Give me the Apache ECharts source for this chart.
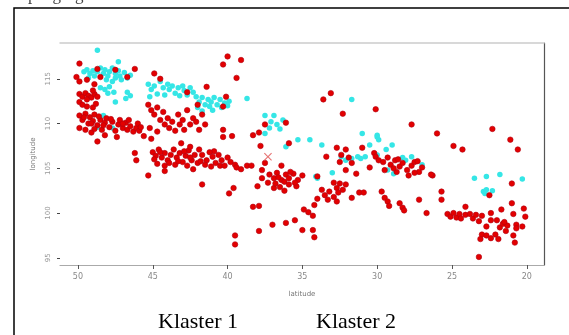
<!DOCTYPE html>
<html>
<head>
<meta charset="utf-8">
<script src="https://cdn.jsdelivr.net/npm/echarts@6/dist/echarts.min.js"></script>
<style>
html, body { margin: 0; padding: 0; background: #fff; }
#chart { width: 569px; height: 335px; }
</style>
</head>
<body>
<div id="chart"></div>
<script>
// tick labels
const xTicks = [50, 45, 40, 35, 30, 25, 20]
const yTicks = [95, 100, 105, 110, 115]

// Klaster 1 (red)
const klaster1 = [
  [49.9,116.7],[48.7,116.1],[46.2,116.1],[47.5,116.0],[50.1,115.2],[49.9,114.7],[49.4,114.9],[48.9,114.4],[48.5,115.2],[46.7,115.2],[44.9,115.6],[44.5,115.0],
  [49.9,113.3],[49.7,113.0],[49.5,113.4],[49.3,113.1],[49.1,112.9],[48.9,113.3],[48.7,113.0],[49.0,113.7],[49.4,112.7],
  [49.9,112.4],[49.4,111.9],[49.0,111.8],[49.7,112.1],[48.8,112.2],
  [49.9,110.9],[49.7,110.4],[49.5,111.1],[49.3,110.0],[49.2,110.7],[49.0,110.3],[48.9,111.0],[48.7,109.8],[48.5,110.4],[48.4,109.3],
  [48.2,110.1],[48.1,110.6],[47.9,109.6],[47.7,110.2],[47.5,109.2],[47.3,109.9],[47.2,110.4],[47.0,109.5],[46.8,110.1],[46.7,109.3],
  [46.5,109.7],[46.3,109.1],[46.1,109.5],[45.9,109.2],[49.5,109.3],[49.1,109.0],[49.9,109.5],[48.7,108.0],[48.2,108.7],[47.4,108.5],
  [49.6,110.7],[49.1,110.0],[48.6,110.8],[48.3,109.8],[47.8,110.5],[47.0,110.0],[46.6,110.4],[46.0,110.0],[45.8,109.6],[48.9,109.4],
  [45.3,112.1],[45.1,111.5],[44.9,111.0],[44.7,111.8],[44.5,110.4],[44.3,111.3],[44.2,109.9],[44.0,110.6],[43.9,109.5],[43.7,110.2],
  [43.5,109.2],[43.3,111.0],[43.2,109.9],[43.0,110.4],[42.9,109.3],[42.7,111.5],[42.5,109.9],[42.3,110.6],[42.1,110.2],[41.9,109.3],
  [45.2,109.5],[44.7,109.1],[42.7,113.5],[41.4,114.1],[42.0,112.1],[41.7,111.0],[41.5,109.9],[45.6,108.6],[45.1,108.3],
  [45.0,106.8],[44.8,106.4],[44.6,107.1],[44.4,106.2],[44.2,106.7],[44.0,105.9],[43.8,106.5],[43.6,107.1],[43.4,106.2],[43.2,106.7],
  [43.0,105.7],[42.8,106.4],[42.6,107.0],[42.4,105.9],[42.2,106.5],[42.0,105.6],[44.7,105.5],[44.2,105.3],[43.5,105.4],[42.7,105.3],
  [44.9,106.0],[44.5,106.8],[43.9,105.6],[43.3,105.8],[42.9,106.9],[41.8,105.8],[40.9,106.9],[40.5,105.3],[39.8,105.7],[42.5,106.2],
  [46.2,106.7],[46.1,105.9],[45.3,104.2],[44.2,104.7],[42.3,104.9],
  [43.1,107.8],[42.5,107.4],[41.9,107.1],[41.7,106.5],[41.4,105.9],[41.2,106.8],[41.0,106.3],[40.8,105.6],[40.6,106.5],[40.4,105.9],
  [40.2,105.3],[40.0,106.2],[41.5,105.4],[41.1,105.2],[41.7,103.2],[39.5,105.4],[39.1,104.9],[38.7,105.3],[39.4,105.1],[38.4,105.3],
  [40.0,117.5],[39.1,117.1],[40.3,116.6],[39.4,115.1],[33.1,113.4],[33.6,112.7],[32.3,111.1],[30.1,111.6],[40.1,113.0],[40.3,111.9],
  [40.3,109.3],[40.3,108.5],[39.7,108.6],[38.3,108.7],[37.9,109.0],[37.5,109.9],[36.1,110.1],[37.8,107.5],[35.9,107.8],
  [36.4,105.3],[37.5,105.6],[37.7,104.8],[37.2,104.3],[36.9,103.9],[36.7,104.5],[36.4,103.7],[36.1,104.3],[35.9,103.9],[35.6,104.4],
  [35.3,103.7],[35.0,104.2],[33.4,106.3],[32.7,107.3],[32.4,106.5],[32.1,107.1],[31.9,106.2],[32.5,105.7],[31.7,105.6],[31.0,107.3],
  [30.2,106.7],[30.5,105.1],[31.4,104.4],[32.1,104.8],[36.6,104.0],[35.8,104.6],[35.4,103.0],[36.9,102.8],
  [39.9,102.2],[39.6,102.8],[38.3,100.7],[37.9,100.8],[38.0,103.0],[37.7,103.9],[37.3,103.4],[36.8,103.3],[36.5,102.9],[36.2,103.5],
  [35.9,103.2],[35.5,103.4],[36.2,102.5],[34.0,104.1],[33.7,102.6],[33.5,102.0],[33.2,102.4],[32.9,101.8],[33.3,101.5],[32.7,101.3],
  [31.7,101.7],[31.2,102.3],[30.9,102.3],[32.9,103.4],[32.7,102.8],[32.5,103.3],[32.3,102.6],[32.1,103.2],[32.6,102.3],
  [34.0,101.6],[34.2,100.9],[34.9,100.4],[34.6,100.1],[34.3,99.7],[35.5,99.2],[36.1,98.9],[37.0,98.7],[37.9,98.0],[35.0,98.1],
  [34.3,98.1],[34.2,97.3],[39.5,97.5],[39.5,96.5],
  [27.7,109.9],[26.0,108.9],[24.9,107.5],[24.3,107.1],[22.3,109.4],[21.1,108.2],[20.6,107.1],[30.1,106.3],[29.9,105.9],
  [29.6,105.7],[29.3,106.2],[29.1,105.4],[28.8,105.9],[28.5,105.2],[28.3,105.6],[28.0,104.8],[27.7,105.3],[27.5,105.7],[27.2,104.6],
  [27.0,105.1],[28.7,104.6],[27.9,104.2],[27.3,105.8],[26.3,104.2],[29.5,104.8],[26.4,104.3],[28.9,105.0],[27.5,104.5],[28.6,106.0],
  [29.7,102.4],[29.5,101.7],[29.3,101.3],[29.2,100.8],[28.5,101.1],[28.3,100.6],[28.2,100.3],[27.2,101.5],[26.7,100.0],[25.7,102.4],
  [25.7,101.5],[25.3,99.9],[25.1,99.6],[24.9,100.0],[24.7,99.5],[24.5,99.9],[24.4,99.4],[24.1,99.8],[24.1,100.7],
  [23.8,99.9],[23.6,99.4],[23.4,99.8],[23.2,99.1],[23.0,99.7],[22.4,100.0],[22.4,99.2],[22.7,98.5],[23.0,97.6],[23.1,97.1],
  [22.7,97.5],[22.4,97.2],[22.1,97.6],[21.9,97.1],[22.0,99.2],[21.8,98.4],[21.6,98.8],[21.4,98.0],[21.3,98.6],[21.7,100.4],
  [21.0,101.1],[20.9,99.9],[20.7,98.7],[20.7,98.3],[20.2,100.5],[20.1,99.6],[20.3,98.5],[20.9,97.5],[20.8,96.7],[23.2,95.1],
  [21.0,103.3],[22.5,102.0],[21.5,99.0]
]

// Klaster 2 (cyan)
const klaster2 = [
  [48.7,118.2],[47.3,116.9],
  [49.6,115.8],[49.4,116.0],[49.2,115.6],[49.3,115.1],[49.0,115.9],[48.9,115.3],[48.7,115.8],[48.5,116.2],[48.3,115.6],[48.2,116.0],
  [48.0,115.3],[47.9,115.8],[47.7,116.2],[47.5,115.6],[47.5,115.1],[47.3,115.9],[47.2,115.3],[47.1,114.9],[46.9,115.7],[46.7,115.1],
  [46.5,115.4],[47.7,114.7],[48.1,114.9],
  [48.5,114.0],[48.2,113.8],[47.9,114.1],[47.6,113.5],[48.0,113.4],[46.7,113.5],[46.5,113.1],[46.8,112.8],[47.5,112.4],
  [45.3,114.4],[45.1,113.8],[44.9,114.2],[44.7,113.3],[44.5,114.7],[44.3,114.0],[44.2,113.2],[44.0,114.4],[43.9,113.8],[43.7,114.2],
  [43.5,113.4],[43.3,114.0],[43.2,113.1],[43.0,114.2],[42.9,113.7],[42.7,113.2],[42.5,114.0],[42.3,113.5],[42.1,113.0],[45.2,113.0],
  [41.9,112.4],[41.7,112.9],[41.5,112.1],[41.3,112.7],[41.2,111.9],[41.1,112.4],[40.9,112.9],[40.7,112.1],[40.5,112.7],[40.4,111.8],
  [40.2,112.3],[40.0,112.0],[39.9,112.5],[41.0,111.5],[41.7,111.4],[42.0,111.8],[38.7,112.8],
  [48.3,110.9],[47.7,109.5],[48.7,109.6],
  [37.5,110.9],[36.9,110.9],[37.1,110.2],[36.7,109.9],[36.3,110.4],[37.2,109.5],[36.5,109.4],[37.5,108.9],[35.3,108.2],[36.1,107.4],
  [34.5,108.2],[33.7,107.6],[31.7,112.7],[31.0,108.9],[30.5,107.6],[30.0,108.5],
  [32.4,106.3],[32.1,105.9],[31.7,106.1],[31.3,106.3],[31.1,106.1],[30.8,106.3],[34.1,104.1],[33.0,104.5],[34.0,103.9],
  [30.0,108.7],[29.9,108.2],[29.0,107.6],[29.4,107.1],[30.0,106.5],[28.3,106.2],[28.1,105.9],[27.7,106.3],[27.0,105.4],[29.3,104.8],
  [28.9,104.4],[23.5,103.9],[22.7,104.1],[21.8,104.3],[20.3,103.8],
  [22.9,102.4],[22.7,102.6],[22.3,102.5],[22.8,102.2]
]

const centroid = [[37.3, 106.3]]

const chart = echarts.init(document.getElementById('chart'))

chart.setOption({
  animation: false,
  backgroundColor: '#fff',
  graphic: [
    {
      type: 'rect',
      shape: { x: 14, y: 8, width: 620, height: 400 },
      style: { fill: 'none', stroke: '#000', lineWidth: 1.5 },
      silent: true
    },
    {
      type: 'text',
      left: 28,
      top: -13,
      style: { text: 'pengorganisasian data', font: '17px "Liberation Serif"', fill: '#444' }
    },
    {
      type: 'text',
      left: 158,
      top: 311,
      style: { text: 'Klaster 1', font: '22px "Liberation Serif"', fill: '#000' }
    },
    {
      type: 'text',
      left: 316,
      top: 311,
      style: { text: 'Klaster 2', font: '22px "Liberation Serif"', fill: '#000' }
    }
  ],
  grid: { left: 60, right: 25, top: 43, bottom: 70 },
  xAxis: [
    {
      type: 'value',
      min: 18.85,
      max: 51.2,
      inverse: true,
      name: 'latitude',
      nameLocation: 'middle',
      nameGap: 26,
      nameTextStyle: { fontSize: 7, color: '#777', fontFamily: 'DejaVu Sans' },
      axisLine: { lineStyle: { color: '#aaa', width: 1.2 } },
      axisTick: { customValues: xTicks, length: 4, lineStyle: { color: '#555' } },
      axisLabel: { customValues: xTicks, fontSize: 8, color: '#888', margin: 8, fontFamily: 'DejaVu Sans' },
      splitLine: { show: false }
    },
    {
      type: 'value',
      position: 'top',
      min: 18.85,
      max: 51.2,
      inverse: true,
      axisLine: { lineStyle: { color: '#ccc', width: 1.5 } },
      axisTick: { show: false },
      axisLabel: { show: false },
      splitLine: { show: false }
    }
  ],
  yAxis: [
    {
      type: 'value',
      min: 94.2,
      max: 119,
      name: 'longitude',
      nameLocation: 'middle',
      nameGap: 22,
      nameTextStyle: { fontSize: 7, color: '#777', fontFamily: 'DejaVu Sans' },
      axisLine: { show: false },
      axisTick: { show: true, customValues: yTicks, length: 3, lineStyle: { color: '#444' } },
      axisLabel: { customValues: yTicks, rotate: 90, fontSize: 7, color: '#999', margin: 8, fontFamily: 'DejaVu Sans' },
      splitLine: { show: false }
    },
    {
      type: 'value',
      position: 'right',
      min: 94.2,
      max: 119,
      axisLine: { show: true, lineStyle: { color: '#555', width: 1.2 } },
      axisTick: { show: false },
      axisLabel: { show: false },
      splitLine: { show: false }
    }
  ],
  series: [
    {
      name: 'Klaster 2',
      type: 'scatter',
      data: klaster2,
      symbolSize: 5.5,
      itemStyle: { color: '#35e6e6', opacity: 1 }
    },
    {
      name: 'Klaster 1',
      type: 'scatter',
      data: klaster1,
      symbolSize: 5.5,
      itemStyle: { color: '#e30000', borderColor: '#b00010', borderWidth: 0.6, opacity: 1 }
    },
    {
      name: 'Centroid',
      type: 'scatter',
      data: centroid,
      symbol: 'path://M0,1L1,0L5,4L9,0L10,1L6,5L10,9L9,10L5,6L1,10L0,9L4,5Z',
      symbolSize: 8,
      itemStyle: { color: '#e05050' }
    }
  ]
})
</script>
</body>
</html>
